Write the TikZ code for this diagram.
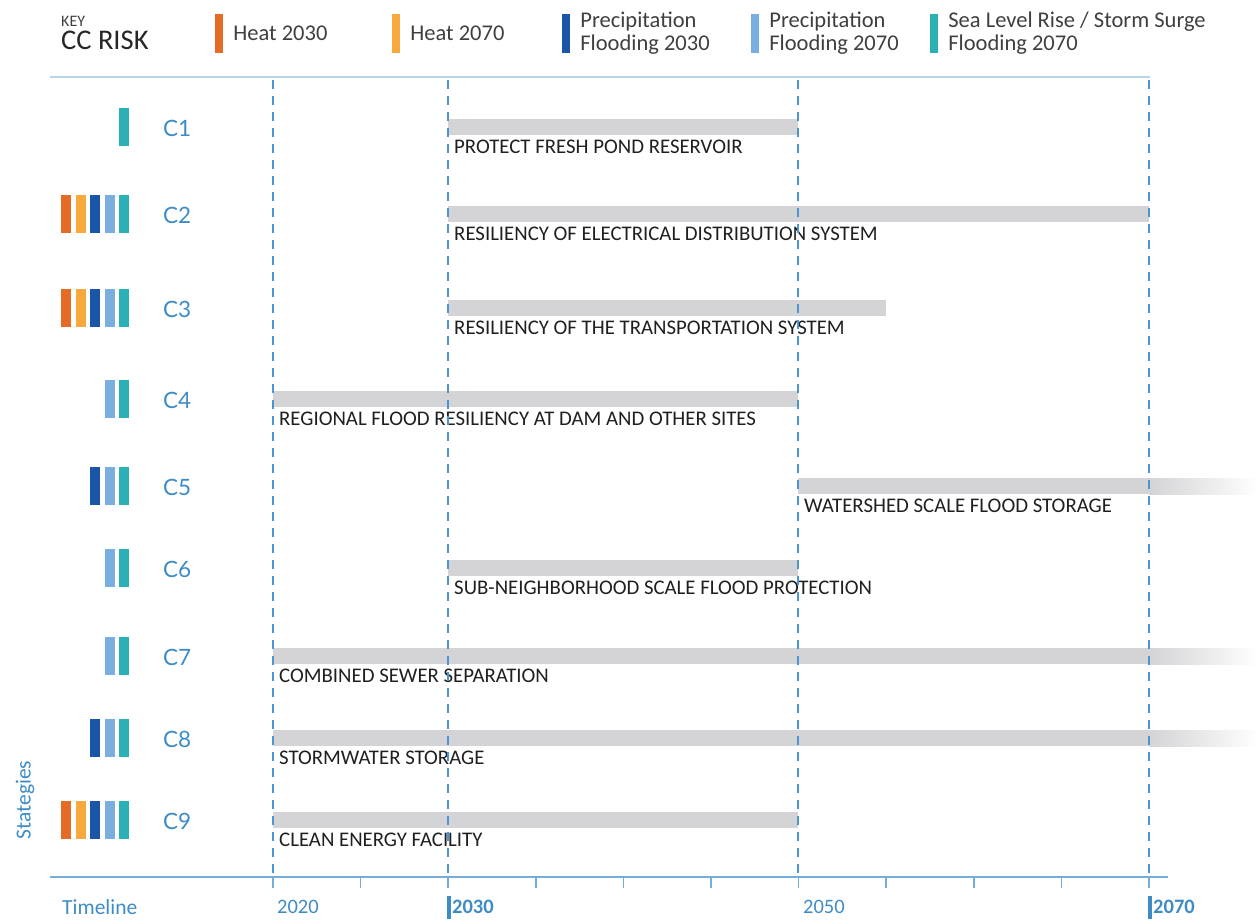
\documentclass[tikz,border=0pt]{standalone}
\usepackage{fontspec}
\setmainfont{Carlito}
\newfontfamily\rowfont{Lato}
\usetikzlibrary{positioning}

\definecolor{risk1}{HTML}{E46C27}
\definecolor{risk2}{HTML}{F7A93D}
\definecolor{risk3}{HTML}{1A56A5}
\definecolor{risk4}{HTML}{7AAEE0}
\definecolor{risk5}{HTML}{2BB0B5}
\definecolor{rowblue}{HTML}{3D8CC8}
\definecolor{axisblue}{HTML}{74ACDA}
\definecolor{dashblue}{HTML}{4F93D0}
\definecolor{topblue}{HTML}{B9D5EA}
\definecolor{barfill}{HTML}{D4D4D6}
\definecolor{keytext}{HTML}{3F3F3F}

\tikzset{
  keybox/.style={fill=#1, draw=none, minimum width=8pt, minimum height=39pt, inner sep=0pt},
  keylabel/.style={right=10pt of #1, inner sep=0pt, align=left, text=keytext,
    font=\fontsize{22.5}{23}\selectfont},
  rowname/.style={anchor=west, inner sep=0pt, text=rowblue, font=\rowfont\fontsize{22.5}{22.5}\selectfont},
  barlabel/.style={anchor=north west, inner sep=0pt, text=black!88,
    font=\fontsize{20.8}{20.8}\selectfont},
  dashline/.style={dashblue, line width=1.3pt, dash pattern=on 9pt off 7pt},
  axisline/.style={axisblue, line width=1.5pt},
  yearlabel/.style={anchor=west, inner sep=0pt, text=rowblue, font=\fontsize{20.5}{20.5}\selectfont},
  yearmark/.style={rowblue, line width=3.2pt},
}

\begin{document}
\begin{tikzpicture}[x=1pt,y=-1pt]
\useasboundingbox (0,0) rectangle (1258,922);

% key
\node[anchor=west, inner sep=0pt, text=keytext, font=\fontsize{16}{16}\selectfont] (key) at (61,21) {KEY};
\node[below=4pt of key.south west, anchor=north west, inner sep=0pt, text=black!85,
  font=\fontsize{28.5}{28.5}\selectfont] (ccrisk) {CC RISK};

\node[keybox=risk1] (k1) at (219,33) {};
\node[keylabel=k1] (k1text) {Heat 2030};
\node[keybox=risk2] (k2) at (396,33) {};
\node[keylabel=k2] (k2text) {Heat 2070};
\node[keybox=risk3] (k3) at (566,33) {};
\node[keylabel=k3] (k3text) {Precipitation\\Flooding 2030};
\node[keybox=risk4] (k4) at (755,33) {};
\node[keylabel=k4] (k4text) {Precipitation\\Flooding 2070};
\node[keybox=risk5] (k5) at (934,33) {};
\node[keylabel=k5] (k5text) {Sea Level Rise / Storm Surge\\Flooding 2070};

\draw[topblue, line width=1.5pt] (50,77) -- (1150,77);

% strategies
\foreach \n/\y/\s/\e/\fade/\risks/\txt in {
  1/127/448/798/0/{5}/PROTECT FRESH POND RESERVOIR,
  2/214/448/1149/0/{1,2,3,4,5}/RESILIENCY OF ELECTRICAL DISTRIBUTION SYSTEM,
  3/308/448/886/0/{1,2,3,4,5}/RESILIENCY OF THE TRANSPORTATION SYSTEM,
  4/399/273/798/0/{4,5}/REGIONAL FLOOD RESILIENCY AT DAM AND OTHER SITES,
  5/486/798/1149/1/{3,4,5}/WATERSHED SCALE FLOOD STORAGE,
  6/568/448/798/0/{4,5}/SUB-NEIGHBORHOOD SCALE FLOOD PROTECTION,
  7/656/273/1149/1/{4,5}/COMBINED SEWER SEPARATION,
  8/738/273/1149/1/{3,4,5}/STORMWATER STORAGE,
  9/820/273/798/0/{1,2,3,4,5}/CLEAN ENERGY FACILITY}
{
  \foreach \r in \risks
    \fill[risk\r] ({61+14.6*(\r-1)},\y-19) rectangle ++(10,38);
  \node[rowname] (c\n) at (163,\y+1) {C\n};
  \fill[barfill] (\s,\y-8) rectangle (\e,\y+8);
  \ifnum\fade=1
    \shade[left color=barfill, right color=white] (\e,\y-8) rectangle (1258,\y+8);
  \fi
  \node[barlabel] (t\n) at (\s+6,\y+13) {\txt};
}

\node[rotate=90, inner sep=0pt, text=rowblue, font=\fontsize{21.5}{21.5}\selectfont] (strat) at (25,800) {Stategies};

% timeline
\foreach \x in {273,448,798,1149}
  \draw[dashline] (\x,80) -- (\x,877);
\draw[axisline] (50,877) -- (1168,877);
\foreach \i in {0,...,10}
  \draw[axisline] ({273+87.6*\i},877) -- ++(0,11);

\node[yearlabel, font=\fontsize{21.5}{21.5}\selectfont] (tline) at (62,907) {Timeline};
\node[yearlabel] (y2020) at (277,907) {2020};
\node[yearlabel, font=\bfseries\fontsize{20.5}{20.5}\selectfont] (y2030) at (452,907) {2030};
\node[yearlabel] (y2050) at (803,907) {2050};
\node[yearlabel, font=\bfseries\fontsize{20.5}{20.5}\selectfont] (y2070) at (1153,907) {2070};
\draw[yearmark] ([xshift=-3pt]y2030.west) ++(0,-11) -- ++(0,23);
\draw[yearmark] ([xshift=-3pt]y2070.west) ++(0,-11) -- ++(0,23);
\end{tikzpicture}
\end{document}
